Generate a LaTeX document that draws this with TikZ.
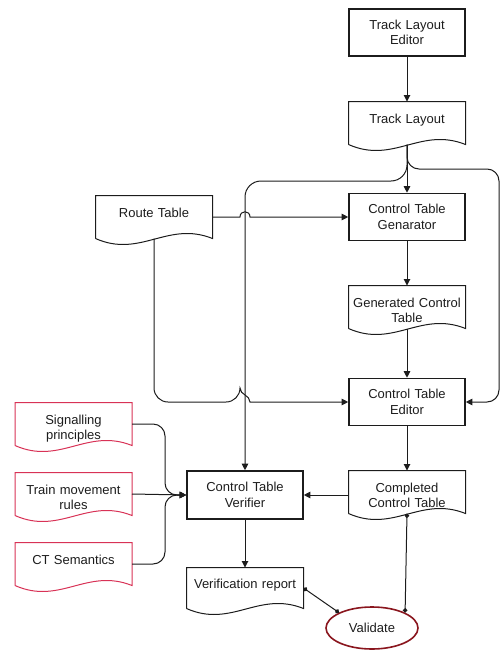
\documentclass[tikz,border=0pt]{standalone}
\usepackage{fontspec}
\setmainfont{Liberation Sans}
\usepackage{xcolor}
\usetikzlibrary{shapes.geometric,calc,arrows.meta}

\definecolor{ink}{RGB}{28,28,28}
\definecolor{docred}{RGB}{216,50,86}
\definecolor{valred}{RGB}{138,22,30}

\tikzset{
	txt/.style={text=ink, font=\fontsize{13}{15.6}\selectfont, text width=112pt, align=center},
	proc/.style={txt, draw=ink, line width=1.6pt, minimum width=116pt, minimum height=47pt, inner sep=2pt},
	doc/.style={txt, minimum width=116pt, minimum height=42pt, inner sep=2pt, text depth=9pt},
	arr/.style={-{Triangle[length=6.5pt,width=6.5pt]}},
	dotlink/.style={{Circle[length=4.5pt]}-{Circle[length=4.5pt]}}
}

\newcommand{\docpath}[2]{%
	\draw[#2, line width=1pt] (#1.south west) -- (#1.north west) -- (#1.north east) -- (#1.south east)
		.. controls ($(#1.south east)+(-45,-18)$) and ($(#1.south west)+(45,20)$) .. (#1.south west);}

\begin{document}
\begin{tikzpicture}[x=1pt,y=-1pt,line width=1pt,draw=ink]
	\useasboundingbox (0,0) rectangle (502,651);

	\node[proc] (tle) at (407,32.5) {Track Layout\\Editor};
	\node[doc] (tl) at (407,123) {Track Layout};
	\node[proc] (ctg) at (407,217) {Control Table\\Genarator};
	\node[doc] (gct) at (407,307) {Generated Control\\Table};
	\node[proc] (cte) at (407,402) {Control Table\\Editor};
	\node[doc] (cct) at (407,492) {Completed\\Control Table};
	\node[proc, minimum height=48pt] (ctv) at (245,495) {Control Table\\Verifier};
	\node[doc, minimum height=40pt] (vr) at (245,588) {Verification report};
	\node[doc] (rt) at (154,217) {Route Table};
	\node[doc] (sp) at (73.5,424) {Signalling\\principles};
	\node[doc] (tmr) at (73.5,494) {Train movement\\rules};
	\node[doc] (cts) at (73.5,564) {CT Semantics};
	\node[ellipse, draw=valred, line width=1.6pt, minimum width=92pt, minimum height=42pt, inner sep=0pt,
		text=ink, font=\fontsize{13}{15.6}\selectfont] (val) at (372,628) {Validate};

	\foreach \n in {tl,gct,cct,vr,rt}
		\docpath{\n}{ink};
	\foreach \n in {sp,tmr,cts}
		\docpath{\n}{docred};

	\coordinate (forkl) at (245,181);
	\coordinate (forkr) at (499,169);
	\coordinate (merge) at (165,495);
	\coordinate (jumpa) at (rt.east -| ctv.north);
	\coordinate (jumpb) at (cte.west -| ctv.north);

	\draw[arr] (tle) -- (tl);
	\draw[arr] (tl) -- (ctg);
	\draw[arr] (ctg) -- (gct);
	\draw[arr] (gct) -- (cte);
	\draw[arr] (cte) -- (cct);
	\draw[arr] (ctv) -- (vr);
	\draw[arr] (cct.west |- ctv) -- (ctv.east);

	\draw[arr, rounded corners=16pt] (tl.south) |- (forkl) -- (ctv.north);
	\draw[arr, rounded corners=12pt] (tl.south) |- (forkr) |- (cte.east);

	\draw[arr] (rt.east) -- ([xshift=-5pt]jumpa)
		.. controls ([xshift=-5pt,yshift=7pt]jumpa) and ([xshift=5pt,yshift=7pt]jumpa) .. ([xshift=5pt]jumpa)
		-- (ctg.west);
	\draw[arr, rounded corners=14pt] (rt.south) |- ([xshift=-5pt]jumpb) [sharp corners]
		.. controls ([xshift=-5pt,yshift=7pt]jumpb) and ([xshift=5pt,yshift=7pt]jumpb) .. ([xshift=5pt]jumpb)
		-- (cte.west);

	\draw[arr, rounded corners=12pt] (sp.east) -| (merge) -- (ctv.west);
	\draw[arr] (tmr.east) -- (ctv.west);
	\draw[arr, rounded corners=12pt] (cts.east) -| (merge) -- (ctv.west);

	\draw[dotlink] (cct.south) -- (val.north east);
	\draw[dotlink] (vr.east) -- (val.north west);
\end{tikzpicture}
\end{document}
